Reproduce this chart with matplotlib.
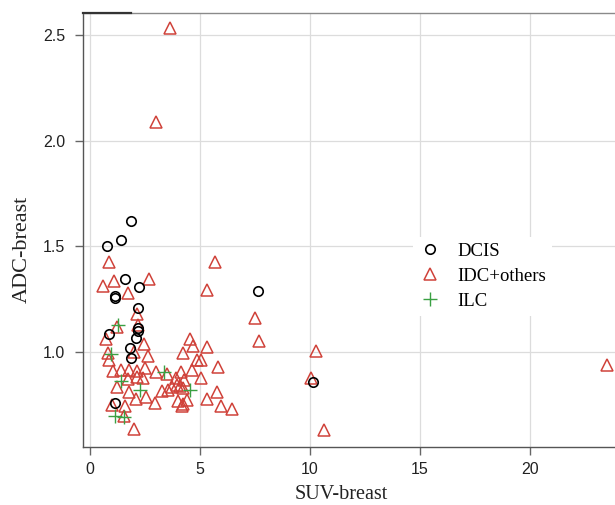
import matplotlib
matplotlib.use("Agg")
import matplotlib.pyplot as plt

# ---- data ----
dcis_suv = [0.77, 1.41, 1.86, 1.59, 2.23, 1.15, 1.15, 2.18, 2.18, 2.18, 0.86, 2.09, 1.82, 1.86, 1.15, 7.64, 10.14]
dcis_adc = [1.50, 1.53, 1.62, 1.345, 1.31, 1.265, 1.255, 1.21, 1.115, 1.10, 1.085, 1.065, 1.02, 0.97, 0.76, 1.29, 0.86]

idc_suv = [3.64, 3.00, 0.86, 5.68, 0.59, 1.09, 1.73, 2.68, 5.32, 7.50, 7.68, 2.14, 2.18, 1.23,
           0.73, 2.45, 4.55, 4.68, 5.32, 0.82, 2.64, 4.23, 0.86, 2.00, 4.86, 5.05, 5.82, 1.05,
           1.41, 1.77, 2.14, 2.50, 3.00, 3.50, 4.14, 4.64, 5.05, 1.73, 2.14, 2.41, 3.91, 4.27,
           1.23, 1.77, 3.27, 3.55, 3.73, 3.95, 4.23, 2.09, 2.55, 2.95, 4.00, 4.41, 5.32, 5.77,
           5.95, 6.45, 4.18, 1.00, 1.59, 1.55, 2.00, 10.27, 10.05, 10.64, 23.50, 4.09, 4.23]
idc_adc = [2.533, 2.088, 1.426, 1.426, 1.312, 1.336, 1.279, 1.345, 1.293, 1.161, 1.052, 1.180, 1.128, 1.118,
           1.062, 1.038, 1.062, 1.028, 1.024, 0.995, 0.981, 0.995, 0.962, 1.000, 0.962, 0.962, 0.929, 0.910,
           0.915, 0.915, 0.910, 0.924, 0.905, 0.896, 0.905, 0.915, 0.877, 0.872, 0.882, 0.877, 0.877, 0.867,
           0.834, 0.811, 0.815, 0.820, 0.834, 0.844, 0.830, 0.778, 0.787, 0.759, 0.768, 0.773, 0.778, 0.811,
           0.744, 0.730, 0.744, 0.749, 0.744, 0.697, 0.636, 1.005, 0.877, 0.631, 0.938, 0.839, 0.754]

ilc_suv = [1.27, 0.95, 1.41, 2.27, 3.36, 4.55, 1.14, 1.55]
ilc_adc = [1.128, 0.99, 0.863, 0.82, 0.905, 0.82, 0.697, 0.692]

group_labels = ["DCIS", "IDC+others", "ILC"]
x_ticks = [0, 5, 10, 15, 20]
y_ticks = [1.0, 1.5, 2.0, 2.5]

# ---- figure ----
fig = plt.figure(figsize=(6.15, 5.05), dpi=100)
ax = fig.add_axes([0.135, 0.1149, 0.865, 0.859])

red = "#d0423a"
green = "#3aa043"

ax.plot(idc_suv, idc_adc, linestyle="none", marker="^", markersize=9,
        markerfacecolor="none", markeredgecolor=red, markeredgewidth=1.1,
        label=group_labels[1], zorder=3)
ax.plot(dcis_suv, dcis_adc, linestyle="none", marker="o", markersize=6.8,
        markerfacecolor="none", markeredgecolor="black", markeredgewidth=1.2,
        label=group_labels[0], zorder=4)
ax.plot(ilc_suv, ilc_adc, linestyle="none", marker="+", markersize=9.5,
        markeredgecolor=green, markeredgewidth=1.0,
        label=group_labels[2], zorder=5)

ax.set_xlim(-0.32, 23.86)
ax.set_ylim(0.5504, 2.604)
ax.set_xticks(x_ticks)
ax.set_yticks(y_ticks)
ax.set_yticklabels([f"{v:.1f}" for v in y_ticks])

ax.grid(True, color="#dcdcdc", linewidth=0.9)
ax.set_axisbelow(True)

for s in ["left", "bottom"]:
    ax.spines[s].set_color("#555555")
    ax.spines[s].set_linewidth(1.0)
ax.spines["right"].set_visible(False)
ax.spines["top"].set_color("#8a8a8a")
ax.spines["top"].set_linewidth(1.0)
ax.plot([0, 0.09], [1, 1], transform=ax.transAxes, color="#333333", lw=1.6,
        clip_on=False, zorder=6)

ax.tick_params(axis="both", direction="out", length=6, width=1.0, color="#666666",
               labelsize=11.5, labelcolor="#222222")
ax.tick_params(axis="y", pad=7)
ax.tick_params(axis="x", pad=5)
for lab in ax.get_xticklabels() + ax.get_yticklabels():
    lab.set_fontfamily("Liberation Sans")

ax.set_xlabel("SUV-breast", fontfamily="Liberation Serif", fontsize=14.5, color="#222222")
ax.set_ylabel("ADC-breast", fontfamily="Liberation Serif", fontsize=16, color="#222222")
ax.xaxis.set_label_coords(0.485, -0.088)
ax.yaxis.set_label_coords(-0.097, 0.456)

handles, labels = ax.get_legend_handles_labels()
order = [1, 0, 2]
leg = ax.legend([handles[i] for i in order], [labels[i] for i in order],
                loc="upper left", bbox_to_anchor=(0.602, 0.505), frameon=True,
                prop={"family": "Liberation Serif", "size": 13.5},
                handletextpad=0.9, labelspacing=0.42, handlelength=1.2,
                borderpad=0.3)
leg.get_frame().set_facecolor("white")
leg.get_frame().set_edgecolor("none")
leg.get_frame().set_alpha(1.0)

fig.savefig("out.png", dpi=100)
